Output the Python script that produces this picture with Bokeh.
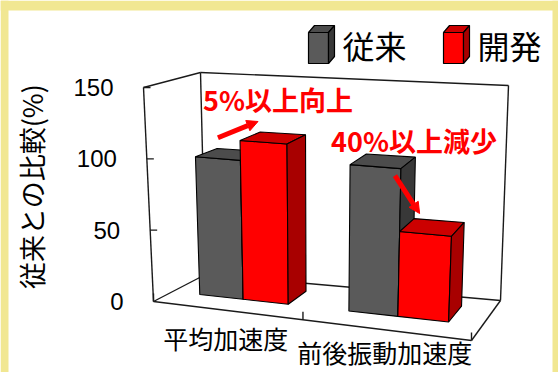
import numpy as np
from bokeh.plotting import figure
from bokeh.models import Range1d, ColumnDataSource, Arrow, NormalHead
from bokeh.core.properties import value
from bokeh.embed import file_html
from bokeh.resources import INLINE

# ---------------- data ----------------
categories = ["平均加速度", "前後振動加速度"]
series_names = ["従来", "開発"]
conventional = [98, 101]
developed = [112, 58]
y_ticks = [0, 50, 100, 150]
y_tick_labels = ["0", "50", "100", "150"]
y_title = "従来との比較(%)"
notes = ["5%以上向上", "40%以上減少"]

# ---------------- 3D projection (style constants) ----------------
W, H = 558, 372
VMAX = 150.0
# corners of the 3D box in pixels, keyed by (u, v, w)
CORNERS = {
    (0, 0, 0): (153, 301), (0, 1, 0): (143, 87),
    (0, 0, 1): (205, 274), (0, 1, 1): (200, 72),
    (1, 0, 0): (471, 340), (1, 1, 0): (481, 112),
    (1, 0, 1): (500, 300), (1, 1, 1): (508, 85),
}
Y0 = 301.0
PXU = (301 - 87) / VMAX
WARP = 0.12
W_FRONT, W_BACK = 0.37, 0.78
BAR_W = 0.152
LABEL_Y = [337, 351]
YELLOW = "#F1E792"


def to_data(px, py):
    return px, (Y0 - py) / PXU


def proj(u, v, w):
    uu = u - WARP * u * (1 - u)
    t = v / VMAX
    x = y = 0.0
    for a in (0, 1):
        for b in (0, 1):
            for c in (0, 1):
                wt = (uu if a else 1 - uu) * (t if b else 1 - t) * (w if c else 1 - w)
                cx, cy = CORNERS[(a, b, c)]
                x += wt * cx
                y += wt * cy
    return x, y


def dproj(u, v, w):
    return to_data(*proj(u, v, w))


p = figure(width=W, height=H, output_backend="svg", toolbar_location=None,
           x_range=Range1d(0, W), y_range=Range1d((Y0 - H) / PXU, Y0 / PXU),
           x_axis_location=None, y_axis_location=None,
           min_border_left=0, min_border_right=0, min_border_top=0, min_border_bottom=0)
p.grid.visible = False
p.outline_line_color = None
p.background_fill_color = "white"
p.border_fill_color = "white"

# yellow frame around the panel
bx0 = [0, 0, 552]
bx1 = [8, W, W]
by0 = [to_data(0, H)[1], to_data(0, 10)[1], to_data(0, H)[1]]
by1 = [to_data(0, 0)[1]] * 3
p.quad(left=bx0, right=bx1, bottom=by0, top=by1, fill_color=YELLOW, line_color=None)

# ---------------- walls / floor ----------------
edges = [((0, 0, 0), (0, 1, 0)), ((0, 1, 0), (0, 1, 1)), ((0, 1, 1), (0, 0, 1)),
         ((0, 1, 1), (1, 1, 1)), ((1, 1, 1), (1, 0, 1)),
         ((0, 0, 0), (1, 0, 0)), ((1, 0, 0), (1, 0, 1)), ((0, 0, 0), (0, 0, 1)),
         ((0, 0, 1), (1, 0, 1))]
x0s, y0s, x1s, y1s = [], [], [], []
for a, b in edges:
    xa, ya = dproj(a[0], a[1] * VMAX, a[2])
    xb, yb = dproj(b[0], b[1] * VMAX, b[2])
    x0s.append(xa); y0s.append(ya); x1s.append(xb); y1s.append(yb)
# value ticks on the left wall
for tv in y_ticks[1:]:
    px, py = proj(0, tv, 0)
    xa, ya = to_data(px, py)
    xb, yb = to_data(px + 7, py)
    x0s.append(xa); y0s.append(ya); x1s.append(xb); y1s.append(yb)
# category divider ticks on the floor front edge
for uc in [0, 0.5, 1.0]:
    px, py = proj(uc, 0, 0)
    xa, ya = to_data(px, py)
    xb, yb = to_data(px, py - 8)
    x0s.append(xa); y0s.append(ya); x1s.append(xb); y1s.append(yb)
p.segment(x0=x0s, y0=y0s, x1=x1s, y1=y1s, line_color="#1a1a1a", line_width=1.4)

# value tick labels along the tilted wall edge
tlx = [proj(0, tv, 0)[0] - 30 for tv in y_ticks]
p.text(x=tlx, y=y_ticks, text=y_tick_labels, text_font=value("Liberation Sans"),
       text_font_size=value("24px"), text_align="right", text_baseline="middle",
       text_color="black")
# value axis title
tx_, ty_ = to_data(31, 186)
p.text(x=[tx_], y=[ty_], text=[y_title], angle=np.pi / 2,
       text_font=value("Noto Sans CJK JP"), text_font_size=value("27px"),
       text_align="center", text_baseline="middle", text_color="black")

# ---------------- bars ----------------
xs, ys, cols = [], [], []
face_cols = {0: ("#5A5A5A", "#4C4C4C", "#383838"), 1: ("#FF0000", "#CC0000", "#A80000")}
bar_tops = {}
for i, cat in enumerate(categories):
    uc = 0.25 + 0.5 * i
    for s, vals in enumerate([conventional, developed]):
        v = vals[i]
        u0 = uc - BAR_W if s == 0 else uc
        u1 = u0 + BAR_W
        front = [dproj(u0, 0, W_FRONT), dproj(u1, 0, W_FRONT), dproj(u1, v, W_FRONT), dproj(u0, v, W_FRONT)]
        top = [dproj(u0, v, W_FRONT), dproj(u1, v, W_FRONT), dproj(u1, v, W_BACK), dproj(u0, v, W_BACK)]
        side = [dproj(u1, 0, W_FRONT), dproj(u1, 0, W_BACK), dproj(u1, v, W_BACK), dproj(u1, v, W_FRONT)]
        for face, col in zip([front, top, side], face_cols[s]):
            xs.append([q[0] for q in face]); ys.append([q[1] for q in face]); cols.append(col)
        bar_tops[(i, s)] = (proj(u0, v, W_FRONT), proj(u1, v, W_FRONT))
src = ColumnDataSource(dict(xs=xs, ys=ys, c=cols))
p.patches("xs", "ys", source=src, fill_color="c", line_color="black", line_width=1.1)

# ---------------- category labels ----------------
lx, ly = [], []
for i, cat in enumerate(categories):
    px, py = proj(0.25 + 0.5 * i, 0, 0)
    x, y = to_data(px, LABEL_Y[i])
    lx.append(x); ly.append(y)
p.text(x=lx, y=ly, text=categories, text_font=value("Noto Sans CJK JP"),
       text_font_size=value("25px"), text_align="center", text_baseline="middle",
       text_color="black")

# ---------------- annotations ----------------
RED = "#FF0000"
(g1l, g1r) = bar_tops[(0, 0)]
(r1l, r1r) = bar_tops[(0, 1)]
(g2l, g2r) = bar_tops[(1, 0)]
(r2l, r2r) = bar_tops[(1, 1)]
arrows = [
    (((g1l[0] + g1r[0]) / 2, g1l[1] - 19), (r1l[0] + 18, r1l[1] - 19)),
    ((g2r[0] - 6, g2r[1] + 7), (r2l[0] + 20, r2l[1] - 18)),
]
for (sx, sy), (ex, ey) in arrows:
    xa, ya = to_data(sx, sy)
    xb, yb = to_data(ex, ey)
    p.add_layout(Arrow(end=NormalHead(size=11, fill_color=RED, line_color=RED),
                       x_start=xa, y_start=ya, x_end=xb, y_end=yb,
                       line_color=RED, line_width=5))
note_pos = [(r1l[0] - 37, 99), (g2l[0] - 19, 140)]
nx = [to_data(*q)[0] for q in note_pos]
ny = [to_data(*q)[1] for q in note_pos]
p.text(x=nx, y=ny, text=notes, text_font=value("Noto Sans CJK JP"),
       text_font_size=value("27px"), text_font_style="bold", text_align="left",
       text_baseline="middle", text_color=RED)

# ---------------- legend (3D box icons) ----------------
LEG = [(308, 63), (443, 63)]   # front-bottom-left of icons
IW, IH, DX, DY = 20, 31, 6, -7
lxs, lys, lcs = [], [], []
for s, (bx, by) in enumerate(LEG):
    front = [(bx, by), (bx + IW, by), (bx + IW, by - IH), (bx, by - IH)]
    top = [(bx, by - IH), (bx + IW, by - IH), (bx + IW + DX, by - IH + DY), (bx + DX, by - IH + DY)]
    side = [(bx + IW, by), (bx + IW + DX, by + DY), (bx + IW + DX, by - IH + DY), (bx + IW, by - IH)]
    for face, col in zip([front, top, side], face_cols[s]):
        d = [to_data(*q) for q in face]
        lxs.append([q[0] for q in d]); lys.append([q[1] for q in d]); lcs.append(col)
p.patches("xs", "ys", source=ColumnDataSource(dict(xs=lxs, ys=lys, c=lcs)),
          fill_color="c", line_color="black", line_width=1.2)
tx = [to_data(bx + IW + DX + 8, 0)[0] for bx, by in LEG]
ty = [to_data(0, 44)[1]] * 2
p.text(x=tx, y=ty, text=series_names, text_font=value("Noto Sans CJK JP"),
       text_font_size=value("32px"), text_align="left", text_baseline="middle",
       text_color="black")

open("out.html", "w").write(file_html(p, INLINE))
